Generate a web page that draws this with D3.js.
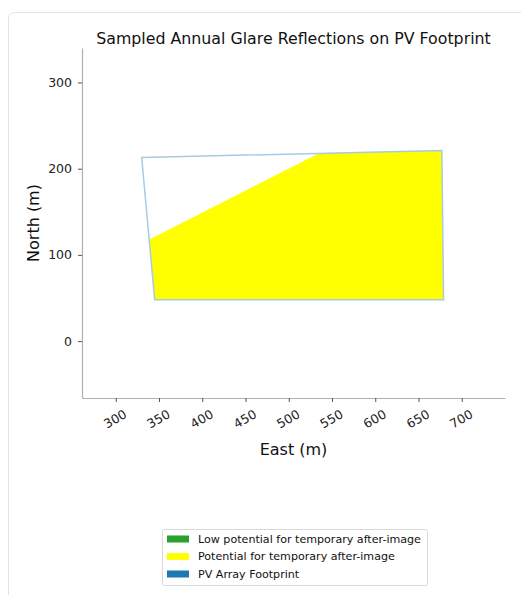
<!DOCTYPE html>
<html>
<head>
<meta charset="utf-8">
<script src="https://cdn.jsdelivr.net/npm/d3@7"></script>
<style>
  body { margin: 0; background: #fff; font-family: "DejaVu Sans", sans-serif; }
</style>
</head>
<body>
<div id="chart"></div>
<script>
'use strict';

var width = 521;
var height = 595;

// footprint outline, east / north in metres
var footprintEast = [330, 677, 679, 345];
var footprintNorth = [213, 221, 48, 48];

// area of potential after-image glare
var glareEast = [339, 535, 677, 679, 345];
var glareNorth = [118, 218, 221, 48, 48];

var xTicks = [300, 350, 400, 450, 500, 550, 600, 650, 700];
var yTicks = [0, 100, 200, 300];

var legendLabels = ['Low potential for temporary after-image', 'Potential for temporary after-image', 'PV Array Footprint'];
var legendColors = ['#2ca02c', '#ffff00', '#1f77b4'];

var plot = { left: 82, right: 505, top: 48, bottom: 398 };

var svg = d3.select('#chart').append('svg').attr('width', width).attr('height', height);

// card frame
svg.append('rect').attr('x', 8.5).attr('y', 12.5).attr('width', 540).attr('height', 620).attr('rx', 6)
  .attr('fill', 'none').attr('stroke', '#e3e3e3').attr('stroke-width', 1);

var x = d3.scaleLinear().domain([261, 750]).range([plot.left, plot.right]);
var y = d3.scaleLinear().domain([-66, 340]).range([plot.bottom, plot.top]);

var line = d3.line().x(function (d) { return x(d[0]); }).y(function (d) { return y(d[1]); });

var glare = glareEast.map(function (e, i) { return [e, glareNorth[i]]; });
var footprint = footprintEast.map(function (e, i) { return [e, footprintNorth[i]]; });

svg.append('path').attr('d', line(glare) + 'Z').attr('fill', '#ffff00').attr('stroke', 'none');
svg.append('path').attr('d', line(footprint) + 'Z').attr('fill', 'none').attr('stroke', '#a6cbe6').attr('stroke-width', 1.5);

// axes
var xAxis = svg.append('g').attr('transform', 'translate(0,' + plot.bottom + ')')
  .call(d3.axisBottom(x).tickValues(xTicks).tickSize(4).tickSizeOuter(0));
var yAxis = svg.append('g').attr('transform', 'translate(' + plot.left + ',0)')
  .call(d3.axisLeft(y).tickValues(yTicks).tickSize(4).tickSizeOuter(0));

[xAxis, yAxis].forEach(function (a) {
  a.select('.domain').attr('stroke', '#b0b0b0').attr('stroke-width', 1.2);
  a.selectAll('.tick line').attr('stroke', '#555');
  a.selectAll('.tick text').attr('fill', '#222').style('font-family', 'DejaVu Sans').style('font-size', '12.5px');
});

xAxis.selectAll('.tick text').attr('y', 0).attr('dy', '0.35em')
  .attr('text-anchor', 'middle')
  .attr('transform', 'translate(-1,21) rotate(-30)');

yAxis.selectAll('.tick text').attr('x', -10);

svg.append('text').attr('x', (plot.left + plot.right) / 2).attr('y', 44).attr('text-anchor', 'middle')
  .style('font-size', '15.8px').attr('fill', '#111').text('Sampled Annual Glare Reflections on PV Footprint');

svg.append('text').attr('x', (plot.left + plot.right) / 2).attr('y', 455).attr('text-anchor', 'middle')
  .style('font-size', '16px').attr('fill', '#111').text('East (m)');

svg.append('text').attr('transform', 'translate(33,' + (plot.top + plot.bottom) / 2 + ') rotate(-90)')
  .attr('text-anchor', 'middle').attr('dy', '0.35em')
  .style('font-size', '16px').attr('fill', '#111').text('North (m)');

// legend
var legend = svg.append('g').attr('transform', 'translate(162,529)');
legend.append('rect').attr('x', 0.5).attr('y', 0.5).attr('width', 265).attr('height', 56).attr('rx', 2)
  .attr('fill', '#fff').attr('stroke', '#d8d8d8');
legendLabels.forEach(function (label, i) {
  legend.append('rect').attr('x', 5).attr('y', 6.5 + i * 17.5).attr('width', 22).attr('height', 7).attr('fill', legendColors[i]);
  legend.append('text').attr('x', 36).attr('y', 10 + i * 17.5).attr('dy', '0.35em')
    .style('font-size', '11.1px').attr('fill', '#111').text(label);
});
</script>
</body>
</html>
